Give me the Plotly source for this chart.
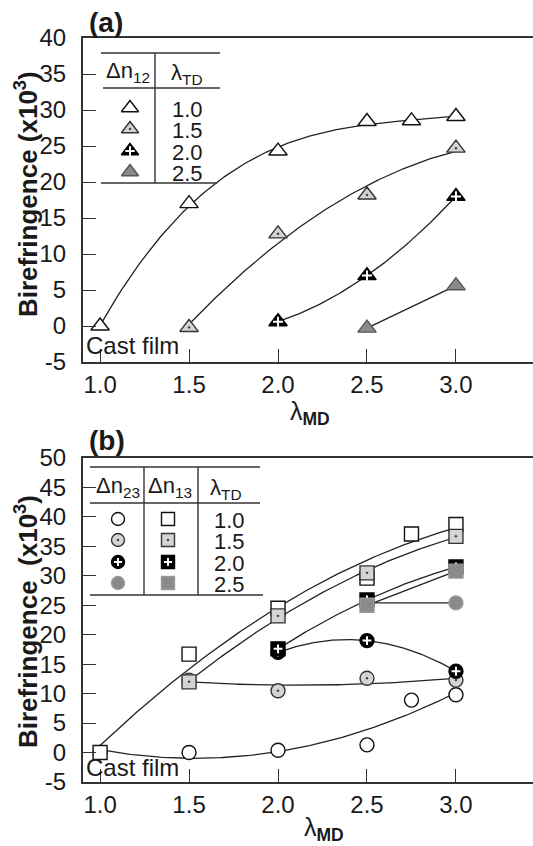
import numpy as np
import plotly.graph_objects as go

W, H = 533, 846
FONT = "Liberation Sans"
INK = "#1a1a1a"

# ---------------- data: panel (a) Δn12 vs λMD, one series per λTD ----------------
td_levels = ["1.0", "1.5", "2.0", "2.5"]

a_lam_10 = [1.0, 1.5, 2.0, 2.5, 2.75, 3.0]
a_dn12_10 = [0.0, 17.0, 24.3, 28.4, 28.5, 29.1]
a_lam_15 = [1.5, 2.0, 2.5, 3.0]
a_dn12_15 = [-0.2, 12.8, 18.2, 24.7]
a_lam_20 = [2.0, 2.5, 3.0]
a_dn12_20 = [0.6, 7.0, 18.0]
a_lam_25 = [2.5, 3.0]
a_dn12_25 = [-0.3, 5.6]

# ---------------- data: panel (b) Δn23 and Δn13 vs λMD ----------------
b_lam_10 = [1.0, 1.5, 2.0, 2.5, 2.75, 3.0]
b_dn23_10 = [0.0, 0.0, 0.4, 1.3, 8.9, 9.8]
b_dn13_10 = [0.0, 16.7, 24.5, 29.6, 37.1, 38.7]
b_lam_15 = [1.5, 2.0, 2.5, 3.0]
b_dn23_15 = [12.3, 10.5, 12.6, 12.3]
b_dn13_15 = [12.0, 23.2, 30.5, 36.7]
b_lam_20 = [2.0, 2.5, 3.0]
b_dn23_20 = [17.0, 19.0, 13.8]
b_dn13_20 = [17.6, 25.9, 31.5]
b_lam_25 = [2.5, 3.0]
b_dn23_25 = [25.4, 25.4]
b_dn13_25 = [25.0, 30.8]

x_ticks = [1.0, 1.5, 2.0, 2.5, 3.0]
x_ticktext = ["1.0", "1.5", "2.0", "2.5", "3.0"]
ya_ticks = list(range(-5, 41, 5))
yb_ticks = list(range(-5, 51, 5))

# ---------------- layout geometry (pixels) ----------------
PLOT_L = 83
A_TOP, A_BOT = 38, 362
B_TOP, B_BOT = 458, 782
X_RANGE = [0.904, 3.433]


def px_x(x):
    return x / W


def px_y(y):
    return 1 - y / H


# marker appearance for each λTD level
STYLE = {
    "1.0": dict(fill="white", line="#111111", dot=False, plus=False),
    "1.5": dict(fill="#d4d4d4", line="#333333", dot=True, plus=False),
    "2.0": dict(fill="black", line="black", dot=False, plus=True),
    "2.5": dict(fill="#8a8a8a", line="#555555", dot=False, plus=False),
}


def marker_traces(x, y, base, td, size, xa, ya, grey_outline=None):
    st = STYLE[td]
    sym = base + ("-dot" if st["dot"] else "")
    line_col = st["line"] if grey_outline is None or td != "2.5" else grey_outline
    traces = [go.Scatter(
        x=x, y=y, mode="markers", xaxis=xa, yaxis=ya, cliponaxis=False,
        showlegend=False, hoverinfo="skip",
        marker=dict(symbol=sym, size=size, color=st["fill"],
                    line=dict(color=line_col, width=1.4)))]
    if st["plus"]:
        traces.append(go.Scatter(
            x=x, y=y, mode="markers", xaxis=xa, yaxis=ya, cliponaxis=False,
            showlegend=False, hoverinfo="skip",
            marker=dict(symbol="cross-thin", size=size * 0.45,
                        line=dict(color="white", width=2))))
    return traces


def fit_curve(x, y, deg, xa, ya):
    coef = np.polyfit(x, y, deg)
    xs = np.linspace(min(x), max(x), 120)
    return go.Scatter(x=xs, y=np.polyval(coef, xs), mode="lines", xaxis=xa, yaxis=ya,
                      showlegend=False, hoverinfo="skip",
                      line=dict(color="#222222", width=1.3))


fig = go.Figure()

# ---------- panel (a) ----------
a_series = [
    (a_lam_10, a_dn12_10, "1.0", 3),
    (a_lam_15, a_dn12_15, "1.5", 2),
    (a_lam_20, a_dn12_20, "2.0", 2),
    (a_lam_25, a_dn12_25, "2.5", 1),
]
for x, y, td, deg in a_series:
    fig.add_trace(fit_curve(x, y, deg, "x", "y"))
for x, y, td, deg in a_series:
    for t in marker_traces(x, y, "triangle-up", td, 16, "x", "y"):
        fig.add_trace(t)

# ---------- panel (b) ----------
b_circles = [
    (b_lam_10, b_dn23_10, "1.0", 2),
    (b_lam_15, b_dn23_15, "1.5", 2),
    (b_lam_20, b_dn23_20, "2.0", 2),
    (b_lam_25, b_dn23_25, "2.5", 1),
]
b_squares = [
    (b_lam_10, b_dn13_10, "1.0", 2),
    (b_lam_15, b_dn13_15, "1.5", 2),
    (b_lam_20, b_dn13_20, "2.0", 2),
    (b_lam_25, b_dn13_25, "2.5", 1),
]
for x, y, td, deg in b_circles + b_squares:
    fig.add_trace(fit_curve(x, y, deg, "x2", "y2"))
for x, y, td, deg in b_circles:
    for t in marker_traces(x, y, "circle", td, 14, "x2", "y2", grey_outline="#9a9a9a"):
        fig.add_trace(t)
for x, y, td, deg in b_squares:
    for t in marker_traces(x, y, "square", td, 14, "x2", "y2", grey_outline="#9a9a9a"):
        fig.add_trace(t)

# ---------- key tables (drawn in a pixel-space overlay) ----------
a_rows = [108, 129, 151, 172]
b_rows = [519, 540, 562, 583]
for td, ry in zip(td_levels, a_rows):
    for t in marker_traces([130], [ry], "triangle-up", td, 15, "x3", "y3"):
        fig.add_trace(t)
for td, ry in zip(td_levels, b_rows):
    for t in marker_traces([118], [ry], "circle", td, 13, "x3", "y3", grey_outline="#9a9a9a"):
        fig.add_trace(t)
    for t in marker_traces([168], [ry], "square", td, 13, "x3", "y3", grey_outline="#9a9a9a"):
        fig.add_trace(t)

shapes = []


def seg(x0, y0, x1, y1):
    shapes.append(dict(type="line", xref="paper", yref="paper",
                       x0=px_x(x0), y0=px_y(y0), x1=px_x(x1), y1=px_y(y1),
                       line=dict(color="#333333", width=1.4)))


# panel (a) table rules
seg(101, 53, 220, 53)
seg(103, 88, 220, 88)
seg(101, 183, 217, 183)
seg(155, 53, 155, 183)
# panel (b) table rules
seg(90, 467, 260, 467)
seg(90, 503, 260, 503)
seg(90, 595, 263, 595)
seg(144, 467, 144, 595)
seg(198, 467, 198, 595)

annotations = []


def text(x, y, s, size, bold=False, xanchor="center", angle=0):
    if bold:
        s = "<b>" + s + "</b>"
    annotations.append(dict(x=px_x(x), y=px_y(y), xref="paper", yref="paper", text=s,
                            showarrow=False, xanchor=xanchor, yanchor="middle",
                            textangle=angle, font=dict(family=FONT, size=size, color=INK)))


# table headers and λTD values
text(128, 72, "Δn<sub>12</sub>", 22)
text(187, 74, "λ<sub>TD</sub>", 22)
for td, ry in zip(td_levels, a_rows):
    text(187, ry + 1, td, 22)
text(118, 487, "Δn<sub>23</sub>", 22)
text(170, 487, "Δn<sub>13</sub>", 22)
text(226, 489, "λ<sub>TD</sub>", 22)
for td, ry in zip(td_levels, b_rows):
    text(229, ry + 1, td, 22)

# panel labels, notes and axis titles
text(87, 22, "(a)", 28, bold=True, xanchor="left")
text(87, 440, "(b)", 28, bold=True, xanchor="left")
text(84, 345, "Cast film", 24, xanchor="left")
text(84, 767, "Cast film", 24, xanchor="left")
text(26, 194, "Birefringence (x10<sup>3</sup>)", 26, bold=True, angle=-90)
text(26, 622, "Birefringence  (x10<sup>3</sup>)", 26, bold=True, angle=-90)
text(310, 413, "λ<sub><b>MD</b></sub>", 25)
text(324, 829, "λ<sub><b>MD</b></sub>", 25)

axis_common = dict(showline=True, linecolor="#333333", linewidth=2, ticks="inside",
                   ticklen=13, tickwidth=1.4, tickcolor="#333333", showgrid=False,
                   zeroline=False, automargin=False,
                   tickfont=dict(family=FONT, size=24, color=INK))

fig.update_layout(
    template="none",
    width=W, height=H, margin=dict(l=0, r=0, t=0, b=0, pad=0, autoexpand=False),
    paper_bgcolor="white", plot_bgcolor="rgba(0,0,0,0)",
    shapes=shapes, annotations=annotations, showlegend=False,
    xaxis=dict(domain=[px_x(PLOT_L), 1], range=X_RANGE, anchor="y", mirror=True,
               tickvals=x_ticks, ticktext=x_ticktext, ticklabelstandoff=0, **axis_common),
    yaxis=dict(domain=[px_y(A_BOT), px_y(A_TOP)], range=[-5, 40], anchor="x",
               tickvals=ya_ticks, ticktext=[str(v) for v in ya_ticks],
               ticklabelstandoff=10, **axis_common),
    xaxis2=dict(domain=[px_x(PLOT_L), 1], range=X_RANGE, anchor="y2", mirror=True,
                tickvals=x_ticks, ticktext=x_ticktext, ticklabelstandoff=0, **axis_common),
    yaxis2=dict(domain=[px_y(B_BOT), px_y(B_TOP)], range=[-5, 50], anchor="x2",
                tickvals=yb_ticks, ticktext=[str(v) for v in yb_ticks],
                ticklabelstandoff=10, **axis_common),
    xaxis3=dict(domain=[0, 1], range=[0, W], visible=False, anchor="y3", automargin=False),
    yaxis3=dict(domain=[0, 1], range=[H, 0], visible=False, anchor="x3", automargin=False),
)

fig.write_html("out.html")
